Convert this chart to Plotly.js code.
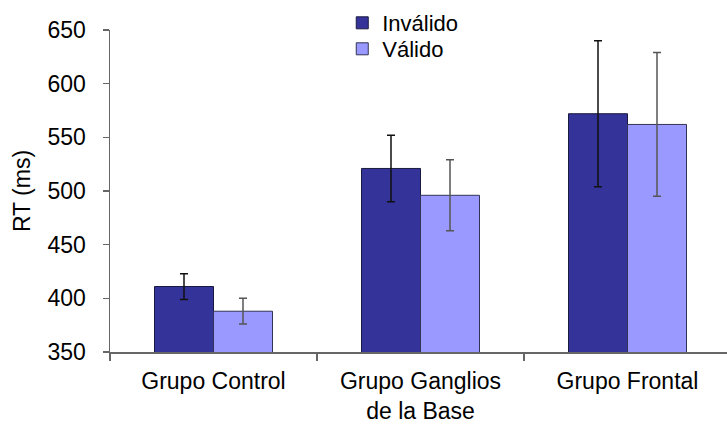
<!DOCTYPE html>
<html>
<head>
<meta charset="utf-8">
<script src="https://cdn.plot.ly/plotly-3.0.1.min.js"></script>
<style>html,body{margin:0;padding:0;background:#fff;overflow:hidden;width:727px;height:428px;}#chart{width:731px;height:428px;}</style>
</head>
<body>
<div id="chart"></div>
<script>
const categories = ["Grupo Control", "Grupo Ganglios<br>de la Base", "Grupo Frontal"];
const invalidoValues = [411, 521, 572];
const invalidoErrors = [12, 31, 68];
const validoValues = [388, 496, 562];
const validoErrors = [12, 33, 67];
const seriesNames = ["Inválido", "Válido"];

const font = "Liberation Sans, Arial, sans-serif";

const traces = [
  {
    type: "bar", name: seriesNames[0], x: categories, y: invalidoValues, legend: "legend",
    marker: {color: "#333399", line: {color: "#1a1a40", width: 1}},
    error_y: {type: "data", array: invalidoErrors, visible: true, color: "#111", thickness: 1.5, width: 4}
  },
  {
    type: "bar", name: seriesNames[1], x: categories, y: validoValues, legend: "legend2",
    marker: {color: "#9999FF", line: {color: "#333355", width: 1}},
    error_y: {type: "data", array: validoErrors, visible: true, color: "#555", thickness: 1.5, width: 4}
  }
];

const legendBase = {
  x: 0.374, xanchor: "left", yanchor: "middle",
  font: {family: font, size: 22, color: "#000"},
  bgcolor: "rgba(0,0,0,0)", borderwidth: 0, itemwidth: 30
};

const layout = {
  width: 731, height: 428,
  margin: {l: 110, r: 0, t: 30, b: 76},
  paper_bgcolor: "#fff", plot_bgcolor: "#fff",
  font: {family: font, size: 23, color: "#000"},
  barmode: "group",
  bargap: 0.43, bargroupgap: 0,
  showlegend: true,
  legend: Object.assign({}, legendBase, {y: 1.0217}),
  legend2: Object.assign({}, legendBase, {y: 0.941}),
  xaxis: {
    type: "category",
    showline: true, linecolor: "#666", linewidth: 1.5,
    ticks: "outside", tickson: "boundaries", ticklen: 7, tickcolor: "#666", tickwidth: 1.5,
    tickfont: {family: font, size: 23, color: "#000"},
    ticklabelstandoff: 8,
    showgrid: false, zeroline: false
  },
  yaxis: {
    range: [350, 650], dtick: 50, tick0: 350,
    showline: true, linecolor: "#666", linewidth: 1.5,
    ticks: "outside", ticklen: 6, tickcolor: "#666", tickwidth: 1.5,
    tickfont: {family: font, size: 23, color: "#000"},
    ticklabelstandoff: 12,
    showgrid: false, zeroline: false,
    title: {text: "RT (ms)", font: {family: font, size: 23, color: "#000"}, standoff: 10}
  }
};

Plotly.newPlot("chart", traces, layout, {displayModeBar: false, staticPlot: true});
</script>
</body>
</html>
